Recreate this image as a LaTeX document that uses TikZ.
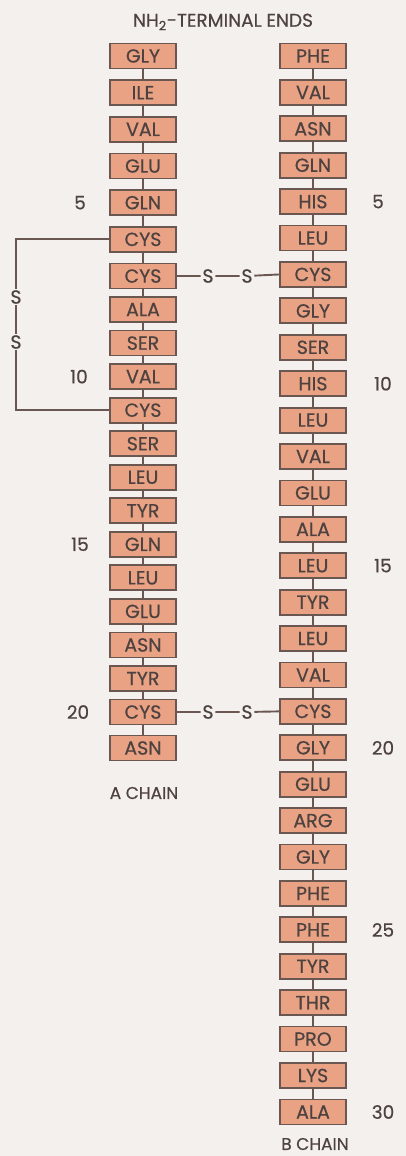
\documentclass[tikz,border=0pt]{standalone}
\usepackage{fontspec}
\setmainfont{Poppins}
\newfontfamily\labfont{Poppins}[FakeBold=0.5]
\definecolor{boxfill}{HTML}{E9A384}
\definecolor{boxline}{HTML}{6B5752}
\definecolor{inkc}{HTML}{4E4240}
\definecolor{paper}{HTML}{F4F0EE}
\tikzset{
  res/.style={draw=boxline, fill=boxfill, line width=1.8pt, minimum width=66pt, minimum height=25pt, inner sep=0pt, text=inkc, font=\labfont\fontsize{19}{19}\selectfont},
  bond/.style={draw=boxline, line width=1.9pt},
  sulf/.style={text=inkc, inner sep=1.5pt, font=\labfont\fontsize{19}{19}\selectfont},
  lbl/.style={text=inkc, font=\labfont\fontsize{18.5}{18.5}\selectfont},
  chainlbl/.style={text=inkc, font=\labfont\fontsize{17}{17}\selectfont},
}
\begin{document}
\begin{tikzpicture}[x=1pt,y=-1pt]
\fill[paper] (0,0) rectangle (406,1156);
\useasboundingbox (0,0) rectangle (406,1156);
\node[lbl] (title) at (223,22) {NH\textsubscript{2}-TERMINAL ENDS};
% A chain
\foreach \n [count=\i] in {GLY,ILE,VAL,GLU,GLN,CYS,CYS,ALA,SER,VAL,CYS,SER,LEU,TYR,GLN,LEU,GLU,ASN,TYR,CYS,ASN}{
  \pgfmathsetmacro{\yy}{\i<=7 ? 56+(\i-1)*36.67 : (\i<=20 ? 276+(\i-7)*33.54 : 748)}
  \node[res] (A\i) at (143,\yy) {\n};
}
% B chain
\foreach \n [count=\i] in {PHE,VAL,ASN,GLN,HIS,LEU,CYS,GLY,SER,HIS,LEU,VAL,GLU,ALA,LEU,TYR,LEU,VAL,CYS,GLY,GLU,ARG,GLY,PHE,PHE,TYR,THR,PRO,LYS,ALA}{
  \pgfmathsetmacro{\yy}{56+(\i-1)*36.41}
  \node[res] (B\i) at (313,\yy) {\n};
}
\foreach \i [evaluate=\i as \j using int(\i+1)] in {1,...,20}{
  \draw[bond] (A\i.south) -- (A\j.north);
}
\foreach \i [evaluate=\i as \j using int(\i+1)] in {1,...,29}{
  \draw[bond] (B\i.south) -- (B\j.north);
}
% intra-chain disulfide
\node[sulf] (SL1) at (16,297) {S};
\node[sulf] (SL2) at (16,342) {S};
\draw[bond] (A6.west) -| (SL1);
\draw[bond] (SL1) -- (SL2);
\draw[bond] (SL2) |- (A11.west);
% inter-chain disulfides
\node[sulf] (S1a) at (208,276) {S};
\node[sulf] (S1b) at (247,276) {S};
\draw[bond] (A7.east) -- (S1a) -- (S1b) -- (B7.west);
\node[sulf] (S2a) at (208,712) {S};
\node[sulf] (S2b) at (247,712) {S};
\draw[bond] (A20.east) -- (S2a) -- (S2b) -- (B19.west);
% numbers
\node[lbl] (nA5) at (80,202.7) {5};
\node[lbl] (nA10) at (79,376.6) {10};
\node[lbl] (nA15) at (80,544.3) {15};
\node[lbl] (nA20) at (78,712) {20};
\node[lbl] (nB5) at (378,201.6) {5};
\node[lbl] (nB10) at (383,383.7) {10};
\node[lbl] (nB15) at (383,565.7) {15};
\node[lbl] (nB20) at (383,747.8) {20};
\node[lbl] (nB25) at (383,929.9) {25};
\node[lbl] (nB30) at (383,1112) {30};
\node[chainlbl] (achain) at (144,793) {A CHAIN};
\node[chainlbl] (bchain) at (315,1144) {B CHAIN};
\end{tikzpicture}
\end{document}
